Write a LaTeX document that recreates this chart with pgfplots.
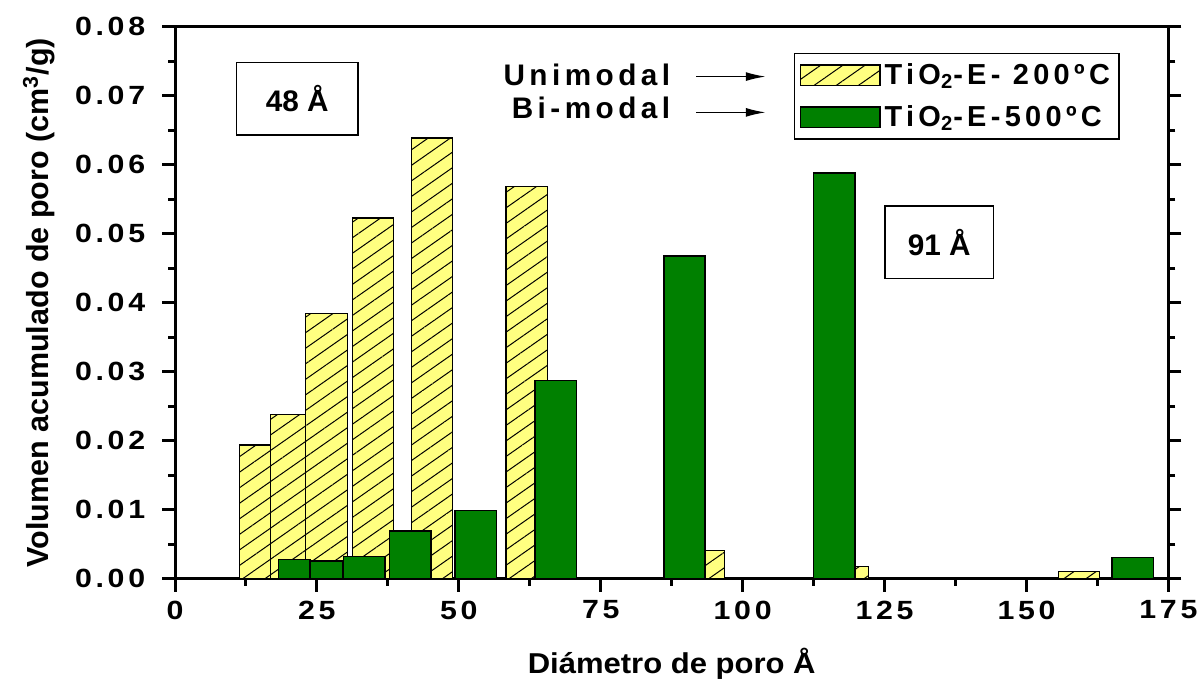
\documentclass[border=0pt]{standalone}
\usepackage{fontspec}
\setmainfont{Liberation Sans}
\newfontfamily\spaced[FakeStretch=1.15, LetterSpace=14]{Liberation Sans}
\newfontfamily\legfont[LetterSpace=15]{Liberation Sans}
\newfontfamily\stretched[FakeStretch=1.08]{Liberation Sans}
\usepackage{pgfplots}
\pgfplotsset{compat=1.18}
\usetikzlibrary{patterns.meta, arrows.meta}
\definecolor{ygold}{RGB}{255,255,128}
\definecolor{dgreen}{RGB}{0,128,0}
\pgfplotsset{
  ysty/.style={ybar, bar shift=0pt, draw=black, line width=0.6bp, fill=ygold,
    postaction={pattern={Lines[angle=35,distance=6.4bp,line width=0.5bp]}, pattern color=black}},
  gsty/.style={ybar, bar shift=0pt, draw=black, line width=0.75bp, fill=dgreen},
}
\begin{document}
\begin{tikzpicture}
\begin{axis}[
  scale only axis,
  width=499.5bp, height=277.5bp,
  xmin=0, xmax=175, ymin=0, ymax=0.08,
  xtick={0,25,...,175},
  ytick={0,0.01,...,0.08},
  minor x tick num=1, minor y tick num=1,
  xtick pos=left, ytick pos=both, yticklabel pos=left,
  tick align=outside,
  major tick length=6.5bp, minor tick length=3.5bp,
  every tick/.style={line width=1.5bp, black},
  axis line style={line width=1.5bp},
  scaled y ticks=false,
  /pgf/number format/assume math mode=true,
  yticklabel style={xshift=-5bp, /pgf/number format/.cd, fixed, fixed zerofill, precision=2},
  xticklabel style={yshift=-1bp},
  ticklabel style={font=\spaced\bfseries\fontsize{13.3}{15}\selectfont},
  xlabel={Diámetro de poro Å},
  ylabel={Volumen acumulado de poro (cm\textsuperscript{3}/g)},
  every axis x label/.style={at={([yshift=-43bp]axis description cs:0.5,0)}, anchor=center,
    font=\stretched\bfseries\fontsize{14.5}{17}\selectfont},
  every axis y label/.style={at={([xshift=-68.5bp]axis description cs:0,0.5)}, anchor=center, rotate=90,
    font=\bfseries\fontsize{15.4}{18}\selectfont},
  clip=false,
  legend style={at={(0.623,0.953)}, anchor=north west, draw=black, line width=0.75bp,
    font=\legfont\bfseries\fontsize{14.6}{16}\selectfont,
    inner xsep=2.5bp, inner ysep=3bp, row sep=5bp,
    nodes={inner sep=2bp, anchor=west}},
  legend cell align=left,
  legend image code/.code={\draw[#1,/tikz/.cd] (6bp,-5.25bp) rectangle (46bp,5.25bp);},
]
% yellow (TiO2-E-200) bars
\addplot[ysty, bar width=5.37, forget plot] coordinates {(14.075,0.0194)};
\addplot[ysty, bar width=6.27, forget plot] coordinates {(19.895,0.0238)};
\addplot[ysty, bar width=7.3]
  coordinates {(26.69,0.0384) (34.85,0.0523) (45.30,0.0639)
    (61.95,0.0568) (93.15,0.0041) (118.45,0.0018) (159.25,0.0010)};
\addlegendentry{TiO\textsubscript{2}-E- 200ºC}
% green (TiO2-E-500) bars
\addplot[gsty, bar width=5.6, forget plot] coordinates {(21.0,0.0028)};
\addplot[gsty, bar width=5.8, forget plot] coordinates {(26.7,0.0026)};
\addplot[gsty, bar width=7.3]
  coordinates {(33.30,0.0032) (41.45,0.0069) (52.95,0.0099)
    (67.05,0.0287) (89.75,0.0468) (116.10,0.0588) (168.70,0.0031)};
\addlegendentry{TiO\textsubscript{2}-E-500ºC}
\node[anchor=east, font=\legfont\bfseries\fontsize{15}{17}\selectfont] at (rel axis cs:0.5055,0.9135) {Unimodal};
\node[anchor=east, font=\legfont\bfseries\fontsize{15}{17}\selectfont] at (rel axis cs:0.5055,0.854) {Bi-modal};
\draw[line width=0.75bp, -{Latex[length=10bp,width=4.5bp]}] (rel axis cs:0.5245,0.9099) -- (rel axis cs:0.5946,0.9099);
\draw[line width=0.75bp, -{Latex[length=10bp,width=4.5bp]}] (rel axis cs:0.5245,0.845) -- (rel axis cs:0.5946,0.845);
\node[draw, line width=0.75bp, minimum width=61bp, minimum height=36.5bp, font=\bfseries\fontsize{15}{17}\selectfont] at (rel axis cs:0.1231,0.8694) {48 Å};
\node[draw, line width=0.75bp, minimum width=54.5bp, minimum height=36.5bp, font=\bfseries\fontsize{15}{17}\selectfont] at (rel axis cs:0.7693,0.6099) {91 Å};
\path (rel axis cs:-0.17618,-0.18739) rectangle (rel axis cs:1.02903,1.04865);
\end{axis}
\end{tikzpicture}
\end{document}
